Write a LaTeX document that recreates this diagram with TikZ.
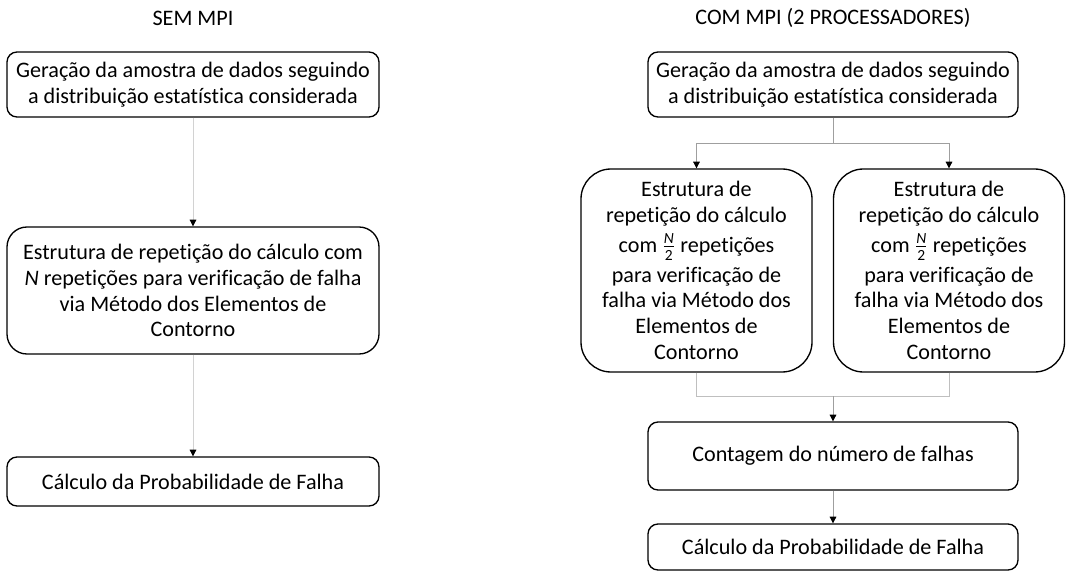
\documentclass[tikz,border=0pt]{standalone}
\usepackage{amsmath}
\usepackage{fontspec}
\setmainfont{Carlito}[Ligatures=NoCommon]
\usetikzlibrary{arrows.meta}

\begin{document}
\begin{tikzpicture}[x=0.75pt,y=-0.75pt,
		font=\fontsize{16.6}{19.4}\selectfont,
		box/.style={draw=black,line width=1pt,rounded corners=7.5pt,align=center,inner sep=0pt},
		arr/.style={draw=gray!75,line width=0.6pt,-{Triangle[length=5pt,width=5pt,color=black]}},
		arrlight/.style={arr,draw=gray!35},
		link/.style={draw=gray!50,line width=0.6pt}]
			\useasboundingbox (0,0) rectangle (1068,571);
			% sem MPI
			\node (semtitle) at (193,18) {SEM MPI};
			\node[box,minimum width=279pt,minimum height=48.75pt] (ger1) at (193,84.5)
				{Geração da amostra de dados seguindo\\a distribuição estatística considerada};
			\node[box,rounded corners=15pt,minimum width=279pt,minimum height=95.25pt] (rep1) at (193,290.5)
				{Estrutura de repetição do cálculo com\\$\mathit{N}$ repetições para verificação de falha\\via Método dos Elementos de\\Contorno};
			\node[box,minimum width=279pt,minimum height=36.75pt] (prob1) at (193,481.5)
				{Cálculo da Probabilidade de Falha};
			\draw[arrlight] (ger1.south) -- (rep1.north);
			\draw[arrlight] (rep1.south) -- (prob1.north);
			% com MPI
			\node (comtitle) at (833,18) {COM MPI (2 PROCESSADORES)};
			\node[box,minimum width=277.5pt,minimum height=48.75pt] (ger2) at (833,84.5)
				{Geração da amostra de dados seguindo\\a distribuição estatística considerada};
			\foreach \nome/\x in {repa/696.5,repb/949}
				\node[box,rounded corners=22.5pt,minimum width=173.25pt,minimum height=152.25pt] (\nome) at (\x,270.5)
					{Estrutura de\\repetição do cálculo\\[3pt]com $\frac{\mathit{N}}{\mathrm{2}}$ repetições\\[3pt]para verificação de\\falha via Método dos\\Elementos de\\Contorno};
			\node[box,minimum width=277.5pt,minimum height=51pt] (cont) at (833,456)
				{Contagem do número de falhas};
			\node[box,minimum width=277.5pt,minimum height=34.5pt] (prob2) at (833,547)
				{Cálculo da Probabilidade de Falha};
			\coordinate (divide) at (833,143);
			\coordinate (junta) at (833,396);
			\draw[arr,-] (ger2.south) -- (divide);
			\draw[arr] (divide) -| (repa.north);
			\draw[arr] (divide) -| (repb.north);
			\draw[link] (repa.south) |- (junta);
			\draw[link] (repb.south) |- (junta);
			\draw[arr] (junta) -- (cont.north);
			\draw[arr] (cont.south) -- (prob2.north);
\end{tikzpicture}
\end{document}
